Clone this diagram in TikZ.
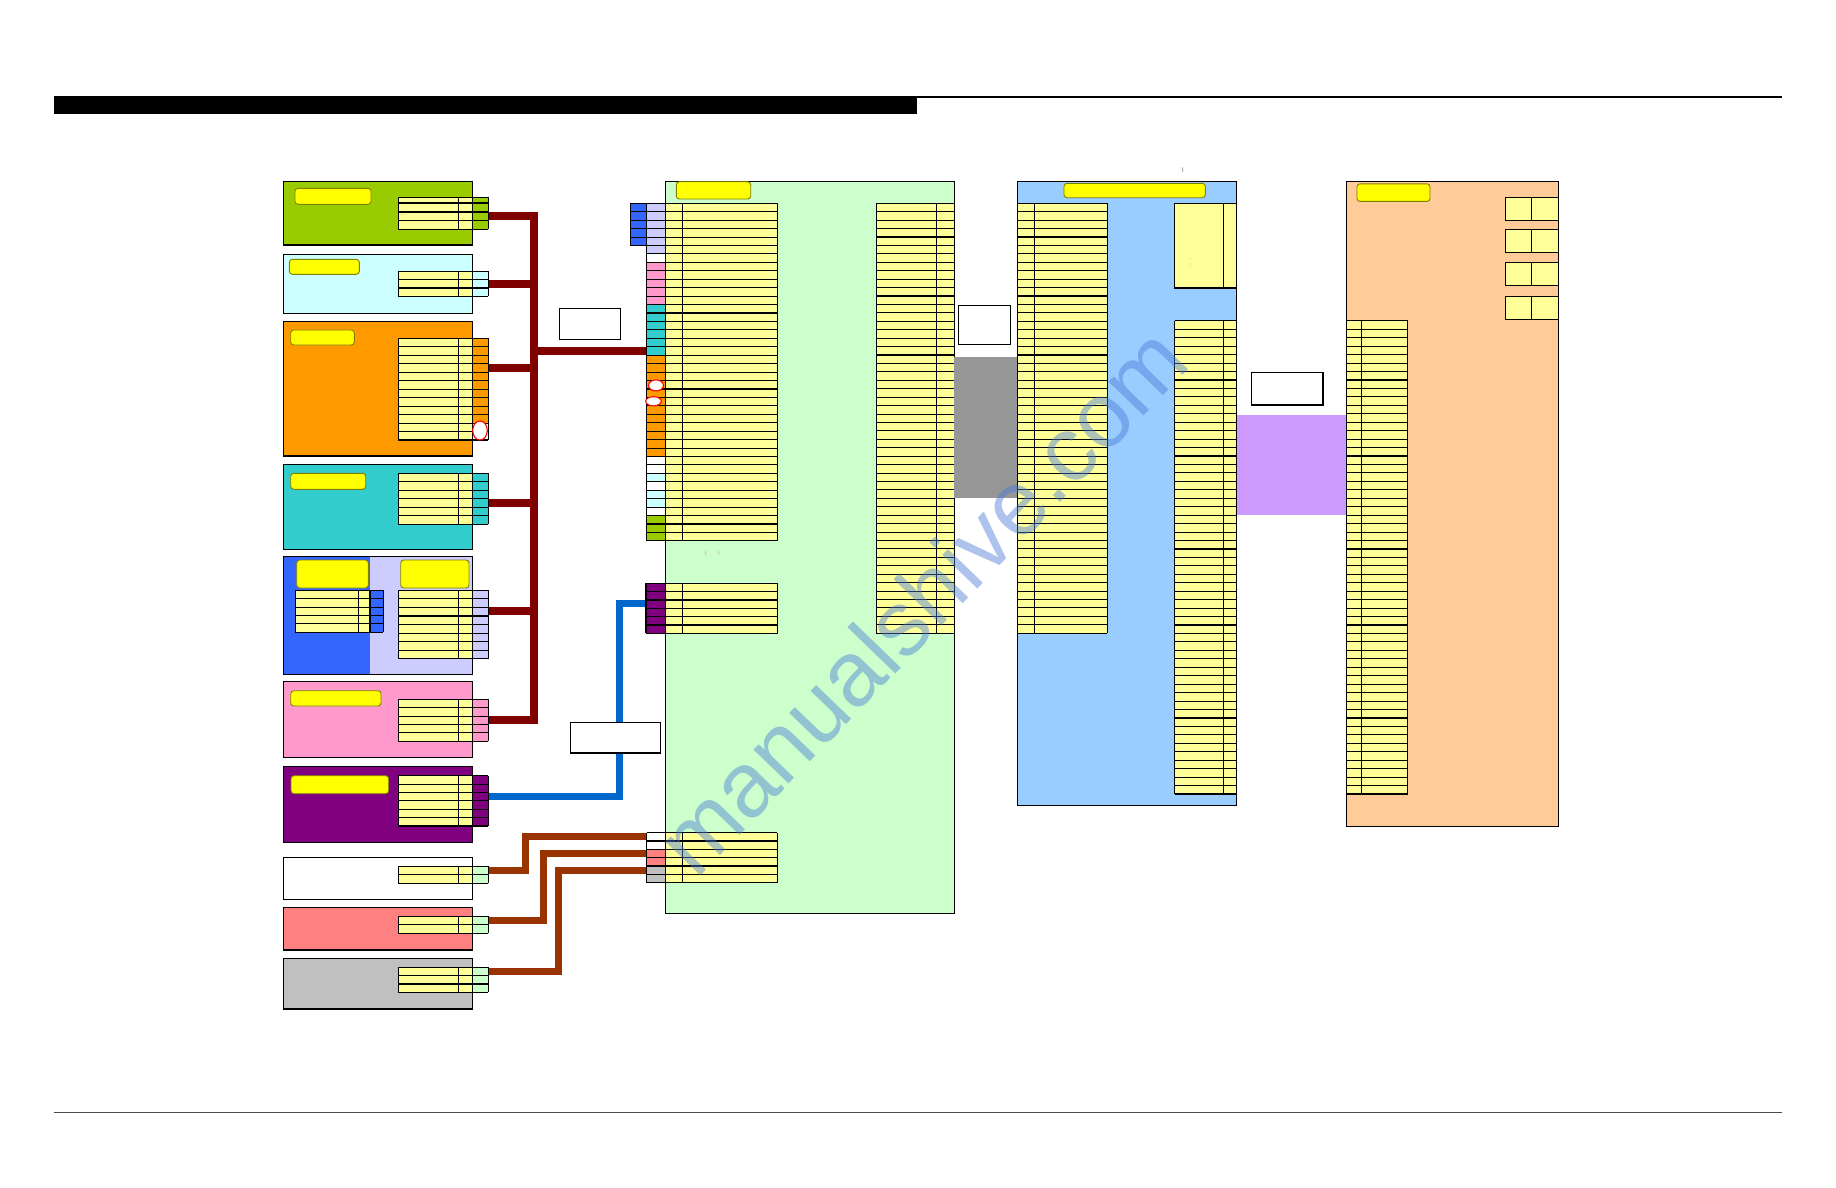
\documentclass[tikz,border=0pt]{standalone}
\usepackage{fontspec}
\newfontfamily\wmfont{Liberation Sans}
\usetikzlibrary{calc}
\definecolor{cGreen}{HTML}{99CC00}
\definecolor{cLCyan}{HTML}{CCFFFF}
\definecolor{cOrange}{HTML}{FF9900}
\definecolor{cCyan}{HTML}{33CCCC}
\definecolor{cBlue}{HTML}{3366FF}
\definecolor{cLav}{HTML}{CCCCFF}
\definecolor{cPink}{HTML}{FF99CC}
\definecolor{cPurple}{HTML}{800080}
\definecolor{cSalmon}{HTML}{FF8080}
\definecolor{cGray}{HTML}{C0C0C0}
\definecolor{cPanel}{HTML}{CCFFCC}
\definecolor{cBPanel}{HTML}{99CCFF}
\definecolor{cPeach}{HTML}{FFCC99}
\definecolor{cViolet}{HTML}{CC99FF}
\definecolor{cBand}{HTML}{969696}
\definecolor{cTab}{HTML}{FFFF99}
\definecolor{cLbl}{HTML}{FFFF00}
\definecolor{cOlive}{HTML}{808000}
\definecolor{cBus}{HTML}{800000}
\definecolor{cBrown}{HTML}{993300}
\definecolor{cBlueLine}{HTML}{0066CC}
\definecolor{cWM}{HTML}{4A7BD8}
\tikzset{
  tl/.style={line width=1.1pt, black},
  boxline/.style={line width=1.3pt, black},
  lbl/.style={fill=cLbl, draw=cOlive, line width=0.9pt, rounded corners=3pt},
  wbox/.style={fill=white, draw=black, line width=1.2pt},
  busline/.style={cBus, line width=8pt, line join=miter},
  blueline/.style={cBlueLine, line width=7pt, line join=miter},
  brownline/.style={cBrown, line width=7pt, line join=miter},
  ring/.style={draw=red, fill=white, line width=1.1pt},
}
% fill of a table: xl xr ytop h n
\newcommand\tabF[5]{\fill[cTab] (#1,#3) rectangle (#2,{#3+#4*#5});}
% lines of a table: xl xr ytop h n
\newcommand\tabL[5]{\foreach \i in {0,...,#5}{\draw[tl] (#1,{#3+#4*\i}) -- (#2,{#3+#4*\i});}
  \draw[tl] (#1,#3) -- (#1,{#3+#4*#5}) (#2,#3) -- (#2,{#3+#4*#5});}
% column divider: x ytop h n
\newcommand\vcol[4]{\draw[tl] (#1,#2) -- (#1,{#2+#3*#4});}
% cell colour fill: xl xr ytop h from to colour
\newcommand\cf[7]{\fill[#7] (#1,{#3+#4*#5}) rectangle (#2,{#3+#4*#6});}
\begin{document}
\begin{tikzpicture}[x=1pt,y=-1pt]
\useasboundingbox (0,0) rectangle (1836,1188);
\fill[white] (0,0) rectangle (1836,1188);

% ---------- header / footer ----------
\fill[black] (53.9,96) rectangle (916.8,113.6);
\draw[line width=1.4pt] (916.8,97.2) -- (1782,97.2);
\draw[line width=0.8pt, black!70] (53.9,1112.4) -- (1782,1112.4);

% ---------- connector coordinates ----------
\coordinate (sG)  at (488.3,215.7);
\coordinate (sLC) at (488.3,283.7);
\coordinate (sO)  at (488.3,368);
\coordinate (sC)  at (488.3,502.7);
\coordinate (sL)  at (488.3,611);
\coordinate (sPk) at (488.3,720);
\coordinate (sPu) at (488.3,796);
\coordinate (sW)  at (488.3,870);
\coordinate (sS)  at (488.3,920.7);
\coordinate (sGr) at (488.3,971);
\coordinate (bT)  at (534,215.7);
\coordinate (bB)  at (534,720);
\coordinate (bM)  at (534,351.3);
\coordinate (tM)  at (646.7,351.3);
\coordinate (jB)  at (619.5,603.7);
\coordinate (tPu) at (646,603.7);
\coordinate (jW)  at (525,836);
\coordinate (tW)  at (646.7,836);
\coordinate (jS)  at (543,853.3);
\coordinate (tS)  at (646.7,853.3);
\coordinate (jGr) at (558,870);
\coordinate (tGr) at (646.7,870);

% ---------- connectors ----------
\draw[busline] (sG) -- (bT) -- (bB) -- (sPk);
\draw[busline] (sLC) -- (sLC -| bT);
\draw[busline] (sO) -- (sO -| bT);
\draw[busline] (sC) -- (sC -| bT);
\draw[busline] (sL) -- (sL -| bT);
\draw[busline] (bM) -- (tM);
\draw[blueline] (sPu) -| (jB) -- (tPu);
\draw[brownline] (sW) -| (jW) -- (tW);
\draw[brownline] (sS) -| (jS) -- (tS);
\draw[brownline] (sGr) -| (jGr) -- (tGr);

% ---------- left boxes ----------
% 1 green
\draw[boxline, fill=cGreen] (283.3,181.7) rectangle (472.3,245);
\draw[lbl] (295,188.3) rectangle (371,204.3);
\fill[cTab] (398.3,197.3) rectangle (472.3,229.3);
\fill[cGreen] (472.3,197.3) rectangle (488.3,229.3);
\foreach \y in {197.3,203,212,220.7,229.3}{\draw[tl] (398.3,\y) -- (488.3,\y);}
\draw[tl] (398.3,197.3) -- (398.3,229.3) (458.3,197.3) -- (458.3,229.3) (472.3,197.3) -- (472.3,229.3) (488.3,197.3) -- (488.3,229.3);
\node[font=\fontsize{4}{4}\selectfont, inner sep=0] (mG) at (402,216) {--};
% 2 light cyan
\draw[boxline, fill=cLCyan] (283.3,254.3) rectangle (472.3,313.3);
\draw[lbl] (289.3,259.3) rectangle (359.3,274.3);
\tabF{398.3}{472.3}{271.3}{8.33}{3}
\cf{472.3}{488.3}{271.3}{8.33}{0}{3}{cLCyan}
\tabL{398.3}{488.3}{271.3}{8.33}{3}
\vcol{458.3}{271.3}{8.33}{3}\vcol{472.3}{271.3}{8.33}{3}
% 3 orange
\draw[boxline, fill=cOrange] (283.3,321.7) rectangle (472.3,456);
\draw[lbl] (290.7,330) rectangle (354.3,345);
\tabF{398.3}{472.3}{338.3}{8.475}{12}
\cf{472.3}{488.3}{338.3}{8.475}{0}{10}{cOrange}
\tabL{398.3}{488.3}{338.3}{8.475}{12}
\vcol{458.3}{338.3}{8.475}{12}\vcol{472.3}{338.3}{8.475}{12}
\draw[ring] (480,430.5) ellipse (7.3 and 9.5);
% 4 cyan
\draw[boxline, fill=cCyan] (283.3,464.7) rectangle (472.3,549.3);
\draw[lbl] (290.7,473.3) rectangle (365.7,489.3);
\tabF{398.3}{472.3}{473.3}{8.5}{6}
\cf{472.3}{488.3}{473.3}{8.5}{0}{6}{cCyan}
\tabL{398.3}{488.3}{473.3}{8.5}{6}
\vcol{458.3}{473.3}{8.5}{6}\vcol{472.3}{473.3}{8.5}{6}
% 5 blue / lavender
\fill[cBlue] (283.3,556.7) rectangle (370,674.3);
\fill[cLav] (370,556.7) rectangle (472.3,674.3);
\draw[boxline] (283.3,556.7) rectangle (472.3,674.3);
\draw[lbl] (296.7,560) rectangle (368.3,588);
\draw[lbl] (400.7,560) rectangle (469,588);
\tabF{295.3}{370}{590.3}{8.4}{5}
\cf{370}{383.3}{590.3}{8.4}{0}{5}{cBlue}
\tabL{295.3}{383.3}{590.3}{8.4}{5}
\vcol{358.3}{590.3}{8.4}{5}\vcol{370}{590.3}{8.4}{5}
\tabF{398.3}{472.3}{590.3}{8.55}{8}
\cf{472.3}{488.3}{590.3}{8.55}{0}{8}{cLav}
\tabL{398.3}{488.3}{590.3}{8.55}{8}
\vcol{458.3}{590.3}{8.55}{8}\vcol{472.3}{590.3}{8.55}{8}
% 6 pink
\draw[boxline, fill=cPink] (283.3,681.7) rectangle (472.3,757.3);
\draw[lbl] (290.7,690.7) rectangle (381,706);
\tabF{398.3}{472.3}{699.3}{8.4}{5}
\cf{472.3}{488.3}{699.3}{8.4}{0}{5}{cPink}
\tabL{398.3}{488.3}{699.3}{8.4}{5}
\vcol{458.3}{699.3}{8.4}{5}\vcol{472.3}{699.3}{8.4}{5}
% 7 purple
\draw[boxline, fill=cPurple] (283.3,766.7) rectangle (472.3,842.3);
\draw[lbl] (291,775.7) rectangle (388.7,793.7);
\tabF{398.3}{472.3}{775.7}{8.38}{6}
\cf{472.3}{488.3}{775.7}{8.38}{0}{6}{cPurple}
\tabL{398.3}{488.3}{775.7}{8.38}{6}
\vcol{458.3}{775.7}{8.38}{6}\vcol{472.3}{775.7}{8.38}{6}
% 8 white
\draw[boxline, fill=white] (283.3,857.3) rectangle (472.3,899.3);
\tabF{398.3}{472.3}{866.3}{8.5}{2}
\cf{472.3}{488.3}{866.3}{8.5}{0}{2}{cPanel}
\tabL{398.3}{488.3}{866.3}{8.5}{2}
\vcol{458.3}{866.3}{8.5}{2}\vcol{472.3}{866.3}{8.5}{2}
% 9 salmon
\draw[boxline, fill=cSalmon] (283.3,907.7) rectangle (472.3,950);
\tabF{398.3}{472.3}{916.3}{8.5}{2}
\cf{472.3}{488.3}{916.3}{8.5}{0}{2}{cPanel}
\tabL{398.3}{488.3}{916.3}{8.5}{2}
\vcol{458.3}{916.3}{8.5}{2}\vcol{472.3}{916.3}{8.5}{2}
% 10 gray
\draw[boxline, fill=cGray] (283.3,958.3) rectangle (472.3,1009);
\tabF{398.3}{472.3}{967.3}{8.33}{3}
\cf{472.3}{488.3}{967.3}{8.33}{0}{3}{cPanel}
\tabL{398.3}{488.3}{967.3}{8.33}{3}
\vcol{458.3}{967.3}{8.33}{3}\vcol{472.3}{967.3}{8.33}{3}

% ---------- white label boxes ----------
\draw[wbox] (559.3,308.3) rectangle (620.7,339.3);
\draw[wbox] (570.2,722.5) rectangle (660.4,753);
\draw[wbox] (958.3,305.3) rectangle (1010.7,344.3);
\draw[wbox] (1251.7,372.4) rectangle (1323,405);

% ---------- main green panel ----------
\draw[boxline, fill=cPanel] (665.3,181.7) rectangle (954.3,913.3);
\draw[lbl] (676.3,181.7) rectangle (750.7,199);
% main table 40 rows
\tabF{665.3}{777.3}{203.3}{8.44}{40}
\cf{646.7}{665.3}{203.3}{8.44}{0}{6}{cLav}
\cf{646.7}{665.3}{203.3}{8.44}{6}{7}{white}
\cf{646.7}{665.3}{203.3}{8.44}{7}{12}{cPink}
\cf{646.7}{665.3}{203.3}{8.44}{12}{18}{cCyan}
\cf{646.7}{665.3}{203.3}{8.44}{18}{30}{cOrange}
\cf{646.7}{665.3}{203.3}{8.44}{30}{32}{white}
\cf{646.7}{665.3}{203.3}{8.44}{32}{33}{cLCyan}
\cf{646.7}{665.3}{203.3}{8.44}{33}{34}{white}
\cf{646.7}{665.3}{203.3}{8.44}{34}{36}{cLCyan}
\cf{646.7}{665.3}{203.3}{8.44}{36}{37}{white}
\cf{646.7}{665.3}{203.3}{8.44}{37}{40}{cGreen}
\cf{630.3}{646.7}{203.3}{8.44}{0}{5}{cBlue}
\tabL{646.7}{777.3}{203.3}{8.44}{40}
\vcol{665.3}{203.3}{8.44}{40}\vcol{682.3}{203.3}{8.44}{40}
\tabL{630.3}{646.7}{203.3}{8.44}{5}
\draw[ring] (656,385.4) ellipse (7.5 and 5.5);
\draw[ring] (653.5,401.3) ellipse (7.8 and 4.6);
\node[font=\fontsize{5}{5}\selectfont, text=cBrown!70, inner sep=0] (pL) at (706,553) {(};
\node[font=\fontsize{5}{5}\selectfont, text=cBrown!70, inner sep=0] (pR) at (718.7,553) {)};
% purple table
\tabF{665.3}{777.7}{583.3}{8.33}{6}
\cf{646}{665.3}{583.3}{8.33}{0}{6}{cPurple}
\tabL{646}{777.7}{583.3}{8.33}{6}
\vcol{665.3}{583.3}{8.33}{6}\vcol{682.3}{583.3}{8.33}{6}
% bottom table
\tabF{665.3}{777.3}{832.7}{8.33}{6}
\cf{646.7}{665.3}{832.7}{8.33}{0}{2}{white}
\cf{646.7}{665.3}{832.7}{8.33}{2}{4}{cSalmon}
\cf{646.7}{665.3}{832.7}{8.33}{4}{6}{cGray}
\tabL{646.7}{777.3}{832.7}{8.33}{6}
\vcol{665.3}{832.7}{8.33}{6}\vcol{682.3}{832.7}{8.33}{6}
% right table in green panel (51 rows)
\tabF{876.3}{954.3}{203.3}{8.43}{51}
\tabL{876.3}{954.3}{203.3}{8.43}{51}
\vcol{936.7}{203.3}{8.43}{51}

% ---------- gray band ----------
\fill[cBand] (954.3,357.3) rectangle (1017.3,497.7);

% ---------- blue panel ----------
\draw[boxline, fill=cBPanel] (1017.3,181.7) rectangle (1236.7,805.6);
\draw[lbl] (1064,183.3) rectangle (1205.3,197.7);
\tabF{1017.3}{1107.3}{203.3}{8.43}{51}
\tabL{1017.3}{1107.3}{203.3}{8.43}{51}
\vcol{1034.3}{203.3}{8.43}{51}
\fill[cTab] (1174.3,203.3) rectangle (1236.7,288);
\draw[tl] (1174.3,203.3) rectangle (1236.7,288);
\draw[tl] (1223.3,203.3) -- (1223.3,288);
\node[font=\fontsize{3}{3}\selectfont, inner sep=0] (tA) at (1190,259) {\textasciitilde};
\node[font=\fontsize{3}{3}\selectfont, inner sep=0] (tB) at (1190,265.7) {\textasciitilde};
\node[font=\fontsize{5}{5}\selectfont, inner sep=0] (tC) at (1182.6,170.5) {)};
\tabF{1174.5}{1236.7}{320.8}{8.45}{56}
\tabL{1174.5}{1236.7}{320.8}{8.45}{56}
\vcol{1223.6}{320.8}{8.45}{56}

% ---------- violet band ----------
\fill[cViolet] (1236.7,414.5) rectangle (1346.5,515);

% ---------- peach panel ----------
\draw[boxline, fill=cPeach] (1346.5,181.5) rectangle (1558.5,826.7);
\draw[lbl] (1357,183.8) rectangle (1430,201.4);
\foreach \a/\b in {197.9/220.1, 229.5/252.9, 262.3/285.7, 296.2/319.7}{
  \fill[cTab] (1505.8,\a) rectangle (1558.5,\b);
  \draw[tl] (1505.8,\a) rectangle (1558.5,\b);
  \draw[tl] (1531.6,\a) -- (1531.6,\b);
}
\tabF{1346.5}{1407.5}{320.8}{8.45}{56}
\tabL{1346.5}{1407.5}{320.8}{8.45}{56}
\vcol{1361.8}{320.8}{8.45}{56}

% ---------- watermark ----------
\node[rotate=46, text=cWM, opacity=0.45, font=\wmfont\fontsize{92}{92}\selectfont, inner sep=0] (wm) at (921,600) {manualshive.com};
\end{tikzpicture}
\end{document}
